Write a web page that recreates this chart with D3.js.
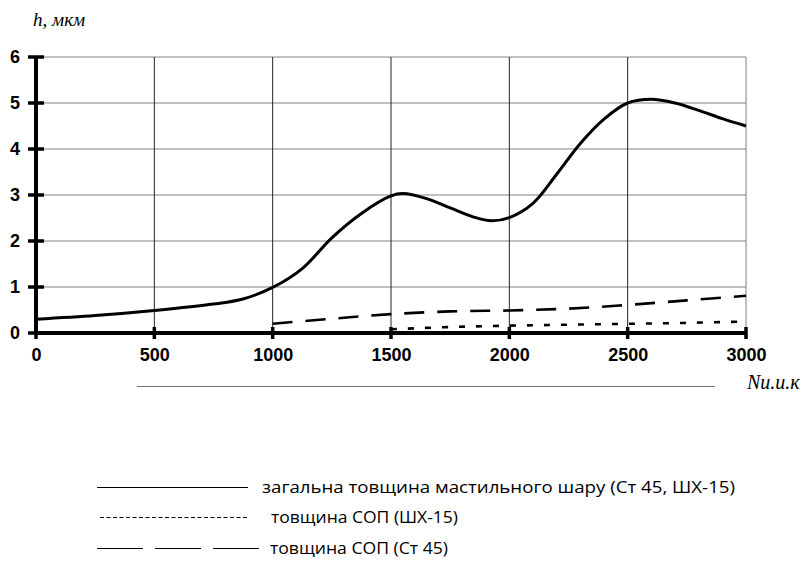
<!DOCTYPE html>
<html><head><meta charset="utf-8">
<script src="https://cdn.jsdelivr.net/npm/d3@7"></script>
<style>body{margin:0;background:#fff}svg{display:block}</style>
</head><body>
<svg id="c" width="805" height="579"></svg>
<script>
const xTicks = [0, 500, 1000, 1500, 2000, 2500, 3000];
const yTicks = [0, 1, 2, 3, 4, 5, 6];
const totalN = [0,250,500,750,875,1000,1125,1250,1375,1500,1550,1650,1750,1850,1925,2000,2100,2200,2300,2400,2500,2600,2700,2800,2900,3000];
const totalH = [0.30,0.38,0.49,0.63,0.74,0.99,1.4,2.07,2.6,2.98,3.03,2.92,2.72,2.52,2.44,2.51,2.82,3.45,4.12,4.65,5.0,5.08,5.0,4.84,4.66,4.5];
const st45N = [1000,1250,1500,1750,2000,2250,2500,2750,3000];
const st45H = [0.2,0.31,0.41,0.47,0.49,0.53,0.61,0.71,0.81];
const shxN = [1500,1750,2000,2250,2500,2750,3000];
const shxH = [0.08,0.13,0.16,0.18,0.2,0.22,0.25];
const legendLabels = ["загальна товщина мастильного шару (Ст 45, ШХ-15)", "товщина СОП (ШХ-15)", "товщина СОП (Ст 45)"];

const svg = d3.select("#c");
const x = d3.scaleLinear().domain([0, 3000]).range([36, 746]);
const y = d3.scaleLinear().domain([0, 6]).range([333, 57]);

// grid
svg.append("g").selectAll("line").data(yTicks.slice(1)).join("line")
  .attr("x1", x(0)).attr("x2", x(3000)).attr("y1", d => y(d)).attr("y2", d => y(d))
  .attr("stroke", "#808080").attr("stroke-width", 1);
svg.append("g").selectAll("line").data(xTicks.slice(1)).join("line")
  .attr("x1", d => x(d)).attr("x2", d => x(d)).attr("y1", y(0)).attr("y2", y(6))
  .attr("stroke", d => d === 3000 ? "#808080" : "#222").attr("stroke-width", 1);

// series
const line = d3.line().x(d => x(d[0])).y(d => y(d[1])).curve(d3.curveCatmullRom.alpha(0.5));
svg.append("path").datum(totalN.map((n, i) => [n, totalH[i]])).attr("d", line)
  .attr("fill", "none").attr("stroke", "#000").attr("stroke-width", 3);
svg.append("path").datum(st45N.map((n, i) => [n, st45H[i]])).attr("d", line)
  .attr("fill", "none").attr("stroke", "#000").attr("stroke-width", 2.6).attr("stroke-dasharray", "20 13");
svg.append("path").datum(shxN.map((n, i) => [n, shxH[i]])).attr("d", line)
  .attr("fill", "none").attr("stroke", "#000").attr("stroke-width", 2.6).attr("stroke-dasharray", "6 11");

// axes
const tickFont = "Liberation Sans, Arial, sans-serif";
const yAxis = d3.axisLeft(y).tickValues(yTicks).tickFormat(d3.format("d")).tickSize(0).tickPadding(16);
const gy = svg.append("g").attr("transform", `translate(${x(0)},0)`).call(yAxis);
gy.select(".domain").remove();
gy.selectAll("text").attr("font-family", tickFont).attr("font-weight", "bold").attr("font-size", 18).attr("fill", "#000");
svg.append("g").selectAll("line").data(yTicks).join("line")
  .attr("x1", x(0) - 8).attr("x2", x(0) + 8).attr("y1", d => y(d)).attr("y2", d => y(d))
  .attr("stroke", "#000").attr("stroke-width", 3.5);

const xAxis = d3.axisBottom(x).tickValues(xTicks).tickFormat(d3.format("d")).tickSize(0).tickPadding(15);
const gx = svg.append("g").attr("transform", `translate(0,${y(0)})`).call(xAxis);
gx.select(".domain").remove();
gx.selectAll("text").attr("font-family", tickFont).attr("font-weight", "bold").attr("font-size", 18).attr("fill", "#000");
svg.append("g").selectAll("line").data(xTicks).join("line")
  .attr("x1", d => x(d)).attr("x2", d => x(d)).attr("y1", y(0) - 6).attr("y2", y(0) + 6)
  .attr("stroke", "#000").attr("stroke-width", 3.5);

svg.append("line").attr("x1", x(0)).attr("x2", x(0)).attr("y1", y(6)).attr("y2", y(0) + 2)
  .attr("stroke", "#000").attr("stroke-width", 4);
svg.append("line").attr("x1", x(0) - 2).attr("x2", x(3000)).attr("y1", y(0)).attr("y2", y(0))
  .attr("stroke", "#000").attr("stroke-width", 4);

// axis titles
svg.append("text").attr("x", 33).attr("y", 26).text("h, мкм")
  .attr("font-family", "Liberation Serif, Times New Roman, serif").attr("font-style", "italic").attr("font-size", 19);
svg.append("text").attr("x", 747).attr("y", 389).text("Nu.u.к")
  .attr("font-family", "Liberation Serif, Times New Roman, serif").attr("font-style", "italic").attr("font-size", 20);
svg.append("line").attr("x1", 137).attr("x2", 715).attr("y1", 386.5).attr("y2", 386.5)
  .attr("stroke", "#777").attr("stroke-width", 1);

// legend
const lg = svg.append("g").attr("font-family", "Open Sans, sans-serif").attr("font-size", 16).attr("fill", "#000");
lg.append("line").attr("x1", 97).attr("x2", 248).attr("y1", 487.5).attr("y2", 487.5).attr("stroke", "#000").attr("stroke-width", 1);
lg.append("text").attr("x", 262).attr("y", 493).text(legendLabels[0]).attr("textLength", 473).attr("lengthAdjust", "spacingAndGlyphs");
lg.append("line").attr("x1", 100).attr("x2", 248).attr("y1", 517.5).attr("y2", 517.5).attr("stroke", "#000").attr("stroke-width", 1).attr("stroke-dasharray", "4 2.5");
lg.append("text").attr("x", 271).attr("y", 523).text(legendLabels[1]).attr("textLength", 187).attr("lengthAdjust", "spacingAndGlyphs");
lg.append("line").attr("x1", 97).attr("x2", 259).attr("y1", 548.5).attr("y2", 548.5).attr("stroke", "#000").attr("stroke-width", 1).attr("stroke-dasharray", "46 12");
lg.append("text").attr("x", 270).attr("y", 554).text(legendLabels[2]).attr("textLength", 178).attr("lengthAdjust", "spacingAndGlyphs");
</script>
</body></html>
